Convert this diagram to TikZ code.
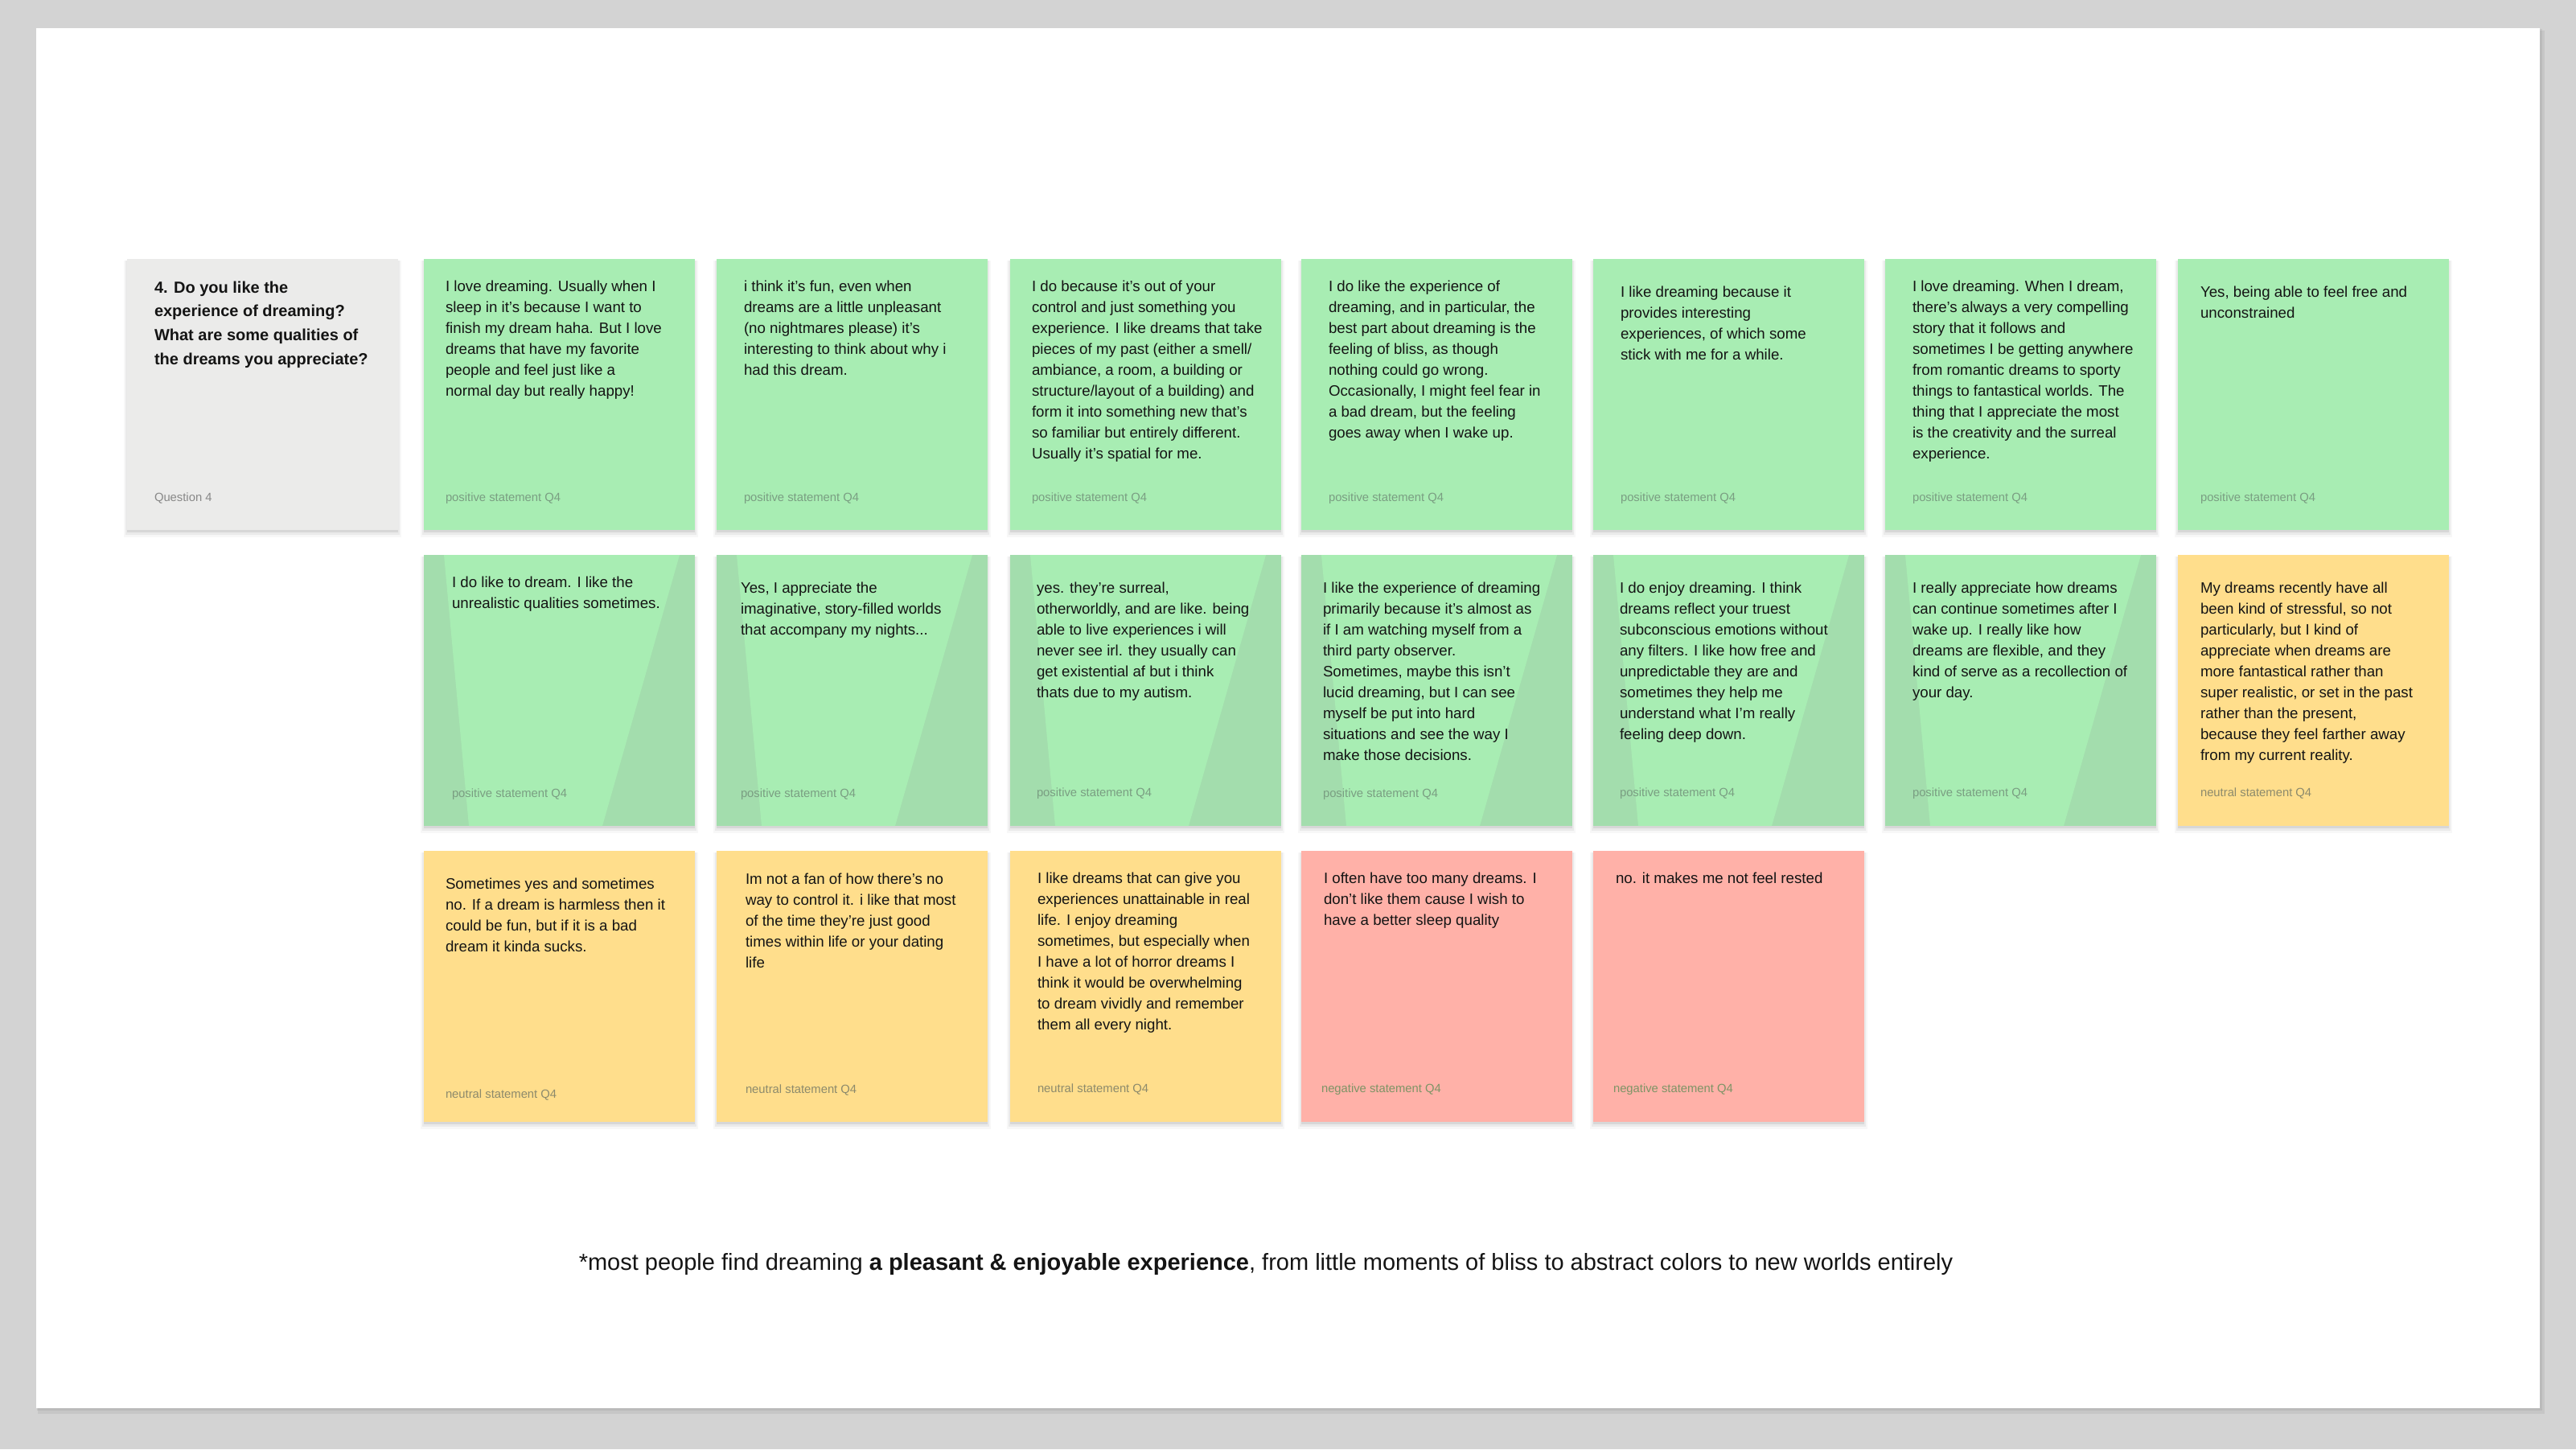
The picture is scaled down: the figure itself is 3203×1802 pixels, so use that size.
\documentclass[tikz,border=0pt]{standalone}
\usepackage{fontspec}
\setmainfont{Liberation Sans}
\definecolor{bgout}{HTML}{D3D3D3}
\definecolor{cgreen}{HTML}{A8EDB3}
\definecolor{cgreendk}{HTML}{A3DDAD}
\definecolor{cyellow}{HTML}{FFDE8C}
\definecolor{cred}{HTML}{FFB1A8}
\definecolor{cgray}{HTML}{EBEBEA}
\definecolor{txt}{HTML}{141414}
\definecolor{labg}{HTML}{7A9E82}
\definecolor{laby}{HTML}{8C8A6C}
\definecolor{labr}{HTML}{7D9466}
\definecolor{labq}{HTML}{888888}
\tikzset{
  cardbox/.style={anchor=north west, minimum width=337pt, minimum height=337pt, inner sep=0pt, outer sep=0pt, draw=none},
  ctxt/.style={anchor=base west, inner sep=0pt, outer sep=0pt, text=txt, font=\fontsize{18.7}{26}\selectfont},
  qtxt/.style={anchor=base west, inner sep=0pt, outer sep=0pt, text=txt, font=\fontsize{20}{29.7}\selectfont\bfseries},
  clab/.style={anchor=base west, inner sep=0pt, outer sep=0pt, font=\fontsize{14.8}{18}\selectfont},
}
\newcommand\CL[1]{\hbox{#1}}
\newcommand\card[4]{%
  \fill[black,opacity=.03] (#2-4,#3+2) rectangle (#2+341,#3+346);
  \fill[black,opacity=.05] (#2-2,#3+2) rectangle (#2+339,#3+343);
  \fill[black,opacity=.08] (#2,#3+3) rectangle (#2+337,#3+340);
  \node[cardbox, fill=#4] (#1) at (#2,#3) {};
}
\newcommand\beam[2]{%
  \fill[cgreen] (#1+25,#2) -- (#1+318,#2) -- (#1+222,#2+337) -- (#1+56,#2+337) -- cycle;
}
\newcommand\ctext[4]{\node[ctxt] (#1) at (#2,#3) {\vtop{#4}};}
\newcommand\clabel[5]{\node[clab, text=#5] (#1) at (#2,#3) {#4};}
\begin{document}
\begin{tikzpicture}[x=1pt,y=-1pt]
\useasboundingbox (0,0) rectangle (3203,1802);
\fill[bgout] (0,0) rectangle (3203,1802);
\fill[black,opacity=.06] (47,38) rectangle (3164,1758);
\fill[black,opacity=.06] (46,36) rectangle (3161,1754);
\node[anchor=north west, fill=white, minimum width=3113pt, minimum height=1716pt, inner sep=0pt, outer sep=0pt] (slide) at (45,35) {};

% ---------- row 1 ----------
\card{a0}{158}{322}{cgray}
\card{a1}{527}{322}{cgreen}
\card{a2}{891}{322}{cgreen}
\card{a3}{1256}{322}{cgreen}
\card{a4}{1618}{322}{cgreen}
\card{a5}{1981}{322}{cgreen}
\card{a6}{2344}{322}{cgreen}
\card{a7}{2708}{322}{cgreen}

\node[qtxt] (a0t) at (192,364) {\vtop{\baselineskip=29.7pt
  \CL{4. Do you like the}\CL{experience of dreaming?}\CL{What are some qualities of}\CL{the dreams you appreciate?}}};
\clabel{a0l}{192}{623}{Question 4}{labq}

\ctext{a1t}{554}{362}{\CL{I love dreaming. Usually when I}\CL{sleep in it's because I want to}\CL{finish my dream haha. But I love}\CL{dreams that have my favorite}\CL{people and feel just like a}\CL{normal day but really happy!}}
\clabel{a1l}{554}{623}{positive statement Q4}{labg}

\ctext{a2t}{925}{362}{\CL{i think it's fun, even when}\CL{dreams are a little unpleasant}\CL{(no nightmares please) it's}\CL{interesting to think about why i}\CL{had this dream.}}
\clabel{a2l}{925}{623}{positive statement Q4}{labg}

\ctext{a3t}{1283}{362}{\CL{I do because it's out of your}\CL{control and just something you}\CL{experience. I like dreams that take}\CL{pieces of my past (either a smell/}\CL{ambiance, a room, a building or}\CL{structure/layout of a building) and}\CL{form it into something new that's}\CL{so familiar but entirely different.}\CL{Usually it's spatial for me.}}
\clabel{a3l}{1283}{623}{positive statement Q4}{labg}

\ctext{a4t}{1652}{362}{\CL{I do like the experience of}\CL{dreaming, and in particular, the}\CL{best part about dreaming is the}\CL{feeling of bliss, as though}\CL{nothing could go wrong.}\CL{Occasionally, I might feel fear in}\CL{a bad dream, but the feeling}\CL{goes away when I wake up.}}
\clabel{a4l}{1652}{623}{positive statement Q4}{labg}

\ctext{a5t}{2015}{369}{\CL{I like dreaming because it}\CL{provides interesting}\CL{experiences, of which some}\CL{stick with me for a while.}}
\clabel{a5l}{2015}{623}{positive statement Q4}{labg}

\ctext{a6t}{2378}{362}{\CL{I love dreaming. When I dream,}\CL{there’s always a very compelling}\CL{story that it follows and}\CL{sometimes I be getting anywhere}\CL{from romantic dreams to sporty}\CL{things to fantastical worlds. The}\CL{thing that I appreciate the most}\CL{is the creativity and the surreal}\CL{experience.}}
\clabel{a6l}{2378}{623}{positive statement Q4}{labg}

\ctext{a7t}{2736}{369}{\CL{Yes, being able to feel free and}\CL{unconstrained}}
\clabel{a7l}{2736}{623}{positive statement Q4}{labg}

% ---------- row 2 ----------
\card{b1}{527}{690}{cgreendk}\beam{527}{690}
\card{b2}{891}{690}{cgreendk}\beam{891}{690}
\card{b3}{1256}{690}{cgreendk}\beam{1256}{690}
\card{b4}{1618}{690}{cgreendk}\beam{1618}{690}
\card{b5}{1981}{690}{cgreendk}\beam{1981}{690}
\card{b6}{2344}{690}{cgreendk}\beam{2344}{690}
\card{b7}{2708}{690}{cyellow}

\ctext{b1t}{562}{730}{\CL{I do like to dream. I like the}\CL{unrealistic qualities sometimes.}}
\clabel{b1l}{562}{991}{positive statement Q4}{labg}

\ctext{b2t}{921}{737}{\CL{Yes, I appreciate the}\CL{imaginative, story-filled worlds}\CL{that accompany my nights...}}
\clabel{b2l}{921}{991}{positive statement Q4}{labg}

\ctext{b3t}{1289}{737}{\CL{yes. they’re surreal,}\CL{otherworldly, and are like. being}\CL{able to live experiences i will}\CL{never see irl. they usually can}\CL{get existential af but i think}\CL{thats due to my autism.}}
\clabel{b3l}{1289}{990}{positive statement Q4}{labg}

\ctext{b4t}{1645}{737}{\CL{I like the experience of dreaming}\CL{primarily because it's almost as}\CL{if I am watching myself from a}\CL{third party observer.}\CL{Sometimes, maybe this isn't}\CL{lucid dreaming, but I can see}\CL{myself be put into hard}\CL{situations and see the way I}\CL{make those decisions.}}
\clabel{b4l}{1645}{991}{positive statement Q4}{labg}

\ctext{b5t}{2014}{737}{\CL{I do enjoy dreaming. I think}\CL{dreams reflect your truest}\CL{subconscious emotions without}\CL{any filters. I like how free and}\CL{unpredictable they are and}\CL{sometimes they help me}\CL{understand what I’m really}\CL{feeling deep down.}}
\clabel{b5l}{2014}{990}{positive statement Q4}{labg}

\ctext{b6t}{2378}{737}{\CL{I really appreciate how dreams}\CL{can continue sometimes after I}\CL{wake up. I really like how}\CL{dreams are flexible, and they}\CL{kind of serve as a recollection of}\CL{your day.}}
\clabel{b6l}{2378}{990}{positive statement Q4}{labg}

\ctext{b7t}{2736}{737}{\CL{My dreams recently have all}\CL{been kind of stressful, so not}\CL{particularly, but I kind of}\CL{appreciate when dreams are}\CL{more fantastical rather than}\CL{super realistic, or set in the past}\CL{rather than the present,}\CL{because they feel farther away}\CL{from my current reality.}}
\clabel{b7l}{2736}{990}{neutral statement Q4}{laby}

% ---------- row 3 ----------
\card{c1}{527}{1058}{cyellow}
\card{c2}{891}{1058}{cyellow}
\card{c3}{1256}{1058}{cyellow}
\card{c4}{1618}{1058}{cred}
\card{c5}{1981}{1058}{cred}

\ctext{c1t}{554}{1105}{\CL{Sometimes yes and sometimes}\CL{no. If a dream is harmless then it}\CL{could be fun, but if it is a bad}\CL{dream it kinda sucks.}}
\clabel{c1l}{554}{1365}{neutral statement Q4}{laby}

\ctext{c2t}{927}{1099}{\CL{Im not a fan of how there’s no}\CL{way to control it. i like that most}\CL{of the time they’re just good}\CL{times within life or your dating}\CL{life}}
\clabel{c2l}{927}{1359}{neutral statement Q4}{laby}

\ctext{c3t}{1290}{1098}{\CL{I like dreams that can give you}\CL{experiences unattainable in real}\CL{life. I enjoy dreaming}\CL{sometimes, but especially when}\CL{I have a lot of horror dreams I}\CL{think it would be overwhelming}\CL{to dream vividly and remember}\CL{them all every night.}}
\clabel{c3l}{1290}{1358}{neutral statement Q4}{laby}

\ctext{c4t}{1646}{1098}{\CL{I often have too many dreams. I}\CL{don't like them cause I wish to}\CL{have a better sleep quality}}
\clabel{c4l}{1643}{1358}{negative statement Q4}{labr}

\ctext{c5t}{2009}{1098}{\CL{no. it makes me not feel rested}}
\clabel{c5l}{2006}{1358}{negative statement Q4}{labr}

% ---------- caption ----------
\node[anchor=base, inner sep=0pt, text=txt, font=\fontsize{29}{34}\selectfont] (cap) at (1574,1579)
  {*most people find dreaming \textbf{a pleasant \& enjoyable experience}, from little moments of bliss to abstract colors to new worlds entirely};
\end{tikzpicture}
\end{document}
